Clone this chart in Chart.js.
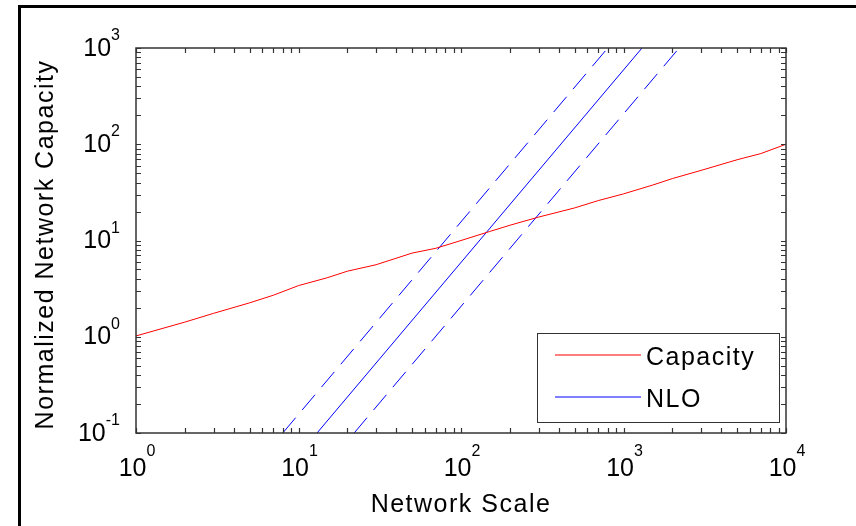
<!DOCTYPE html>
<html>
<head>
<meta charset="utf-8">
<script src="https://cdn.jsdelivr.net/npm/chart.js@4.4.1/dist/chart.umd.min.js"></script>
<style>
  body { margin: 0; background: #fff; }
  #wrap { position: relative; width: 856px; height: 526px; overflow: hidden; }
  #frame { position: absolute; left: 18px; top: 5px; right: -10px; bottom: -10px;
           border-top: 3px solid #000; border-left: 3px solid #000; pointer-events: none; }
</style>
</head>
<body>
<div id="wrap">
  <canvas id="chartCanvas" width="856" height="526"></canvas>
  <div id="frame"></div>
</div>
<script>
// capacity curve
const capX = [1, 2, 3, 5, 7, 10, 15, 20, 30, 50, 70, 100, 150, 200, 300, 500, 700, 1000, 1500, 2000, 3000, 5000, 7000, 10000];
const capY = [1.02, 1.42, 1.75, 2.25, 2.7, 3.4, 4.1, 4.8, 5.6, 7.4, 8.3, 10.0, 12.4, 14.4, 17.5, 21.8, 26.0, 30.5, 37.5, 44.0, 53.5, 69.0, 80.0, 100];

// NLO line and its dashed bounds
const nloX = [13, 1300];
const nloUpperX = [8, 800];
const nloLowerX = [22, 2200];
const nloY = [0.1, 1000];

// tick labels
const xTicks = [1, 10, 100, 1000, 10000];
const xTickExp = ["0", "1", "2", "3", "4"];
const yTicks = [0.1, 1, 10, 100, 1000];
const yTickExp = ["-1", "0", "1", "2", "3"];

const legendLabels = ["Capacity", "NLO"];
const xTitle = "Network Scale";
const yTitle = "Normalized Network Capacity";

const RED = "#ff0000";
const BLUE = "#0000ff";
const FONT = '"Liberation Sans", Arial, sans-serif';

function pts(xs, ys) {
  return xs.map((x, i) => ({ x: x, y: ys[i] }));
}

function drawPow(ctx, exp, x, yBase, yExp, align) {
  ctx.font = "25px " + FONT;
  const wb = ctx.measureText("10").width;
  ctx.font = "16px " + FONT;
  const we = ctx.measureText(exp).width;
  let left = align === "right" ? x - wb - we : x - (wb + we) / 2;
  ctx.textAlign = "left";
  ctx.font = "25px " + FONT;
  ctx.fillText("10", left, yBase);
  ctx.font = "16px " + FONT;
  ctx.fillText(exp, left + wb, yExp);
}

const axesPlugin = {
  id: "matlabAxes",
  afterDatasetsDraw(chart) {
    const ctx = chart.ctx;
    const a = chart.chartArea;
    const xs = chart.scales.x, ys = chart.scales.y;
    ctx.save();

    // box
    ctx.strokeStyle = "#333";
    ctx.lineWidth = 1.5;
    ctx.strokeRect(a.left, a.top, a.right - a.left, a.bottom - a.top);

    // ticks, pointing inwards, on all four sides
    ctx.lineWidth = 1.2;
    const tl = 5;
    ctx.beginPath();
    xTicks.forEach((d, i) => {
      const ks = i < xTicks.length - 1 ? [1, 2, 3, 4, 5, 6, 7, 8, 9] : [1];
      ks.forEach(k => {
        const px = Math.round(xs.getPixelForValue(d * k)) + 0.5;
        ctx.moveTo(px, a.bottom); ctx.lineTo(px, a.bottom - tl);
        ctx.moveTo(px, a.top); ctx.lineTo(px, a.top + tl);
      });
    });
    yTicks.forEach((d, i) => {
      const ks = i < yTicks.length - 1 ? [1, 2, 3, 4, 5, 6, 7, 8, 9] : [1];
      ks.forEach(k => {
        const py = Math.round(ys.getPixelForValue(d * k)) + 0.5;
        ctx.moveTo(a.left, py); ctx.lineTo(a.left + tl, py);
        ctx.moveTo(a.right, py); ctx.lineTo(a.right - tl, py);
      });
    });
    ctx.stroke();

    // tick labels
    ctx.fillStyle = "#000";
    ctx.textBaseline = "alphabetic";
    xTicks.forEach((v, i) => {
      const px = xs.getPixelForValue(v);
      drawPow(ctx, xTickExp[i], px + 1, a.bottom + 43, a.bottom + 23, "center");
    });
    yTicks.forEach((v, i) => {
      const py = ys.getPixelForValue(v);
      drawPow(ctx, yTickExp[i], a.left - 16, py + 7.5, py - 8, "right");
    });

    // axis titles
    ctx.font = "25px " + FONT;
    ctx.letterSpacing = "1.5px";
    ctx.textAlign = "center";
    ctx.fillText(xTitle, (a.left + a.right) / 2, a.bottom + 79);
    ctx.save();
    ctx.translate(53, (a.top + a.bottom) / 2 + 4);
    ctx.rotate(-Math.PI / 2);
    ctx.fillText(yTitle, 0, 0);
    ctx.restore();

    // legend (only the two solid series)
    const lx = 537, ly = 333, lw = 242, lh = 89;
    ctx.fillStyle = "#fff";
    ctx.fillRect(lx, ly, lw, lh);
    ctx.strokeStyle = "#333";
    ctx.lineWidth = 1;
    ctx.strokeRect(lx + 0.5, ly + 0.5, lw, lh);
    const colors = [RED, BLUE];
    const rows = [355, 397];
    legendLabels.forEach((label, i) => {
      ctx.strokeStyle = colors[i];
      ctx.lineWidth = 1.2;
      ctx.beginPath();
      ctx.moveTo(555, rows[i]);
      ctx.lineTo(641, rows[i]);
      ctx.stroke();
      ctx.fillStyle = "#000";
      ctx.textAlign = "left";
      ctx.fillText(label, 646, rows[i] + 10);
    });

    ctx.restore();
  }
};

const ctx = document.getElementById("chartCanvas").getContext("2d");
const chart = new Chart(ctx, {
  type: "scatter",
  data: {
    datasets: [
      { label: "Capacity", data: pts(capX, capY), borderColor: RED, borderWidth: 1, showLine: true, pointRadius: 0 },
      { label: "NLO", data: pts(nloX, nloY), borderColor: BLUE, borderWidth: 1, showLine: true, pointRadius: 0 },
      { label: "NLO upper", data: pts(nloUpperX, nloY), borderColor: BLUE, borderWidth: 1, borderDash: [20, 10], showLine: true, pointRadius: 0 },
      { label: "NLO lower", data: pts(nloLowerX, nloY), borderColor: BLUE, borderWidth: 1, borderDash: [20, 10], showLine: true, pointRadius: 0 }
    ]
  },
  options: {
    responsive: false,
    animation: false,
    devicePixelRatio: 1,
    layout: { padding: { left: 136, top: 48, right: 70, bottom: 93 } },
    plugins: { legend: { display: false }, tooltip: { enabled: false } },
    scales: {
      x: { type: "logarithmic", min: 1, max: 10000, display: false },
      y: { type: "logarithmic", min: 0.1, max: 1000, display: false }
    }
  },
  plugins: [axesPlugin]
});
</script>
</body>
</html>
